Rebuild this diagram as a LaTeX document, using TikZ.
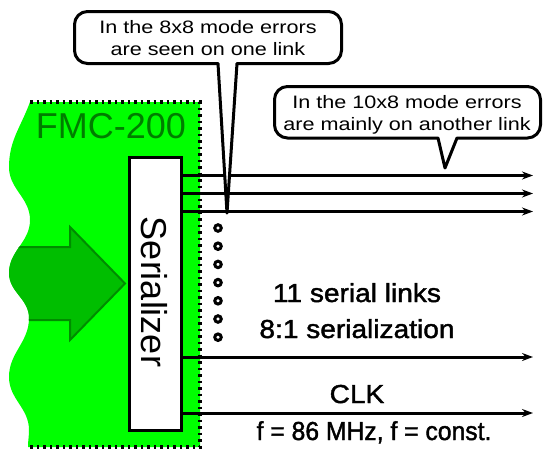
\documentclass[tikz,border=0pt]{standalone}
\usepackage{fontspec}
\setmainfont{Liberation Sans}
\newfontfamily\calloutfont[FakeStretch=1.2]{Liberation Sans}
\newfontfamily\labelfont[FakeStretch=1.08,FakeBold=1.6]{Liberation Sans}
\newfontfamily\freqfont[FakeStretch=0.95,FakeBold=1.6]{Liberation Sans}
\usetikzlibrary{arrows.meta}
\definecolor{brightgreen}{RGB}{0,255,0}
\definecolor{arrowgreen}{RGB}{0,190,0}
\definecolor{arrowedge}{RGB}{0,140,0}
\definecolor{textgreen}{RGB}{0,125,0}
\begin{document}
\begin{tikzpicture}[x=1pt,y=1pt,
  link/.style={line width=3pt,-{Stealth[length=11pt,width=8pt]}},
  callout/.style={draw=black,fill=white,line width=3pt,line join=round},
  calltext/.style={anchor=base,inner sep=0pt,font=\calloutfont\fontsize{18}{22}\selectfont},
  bigtext/.style={anchor=base,inner sep=0pt,font=\labelfont\fontsize{26}{30}\selectfont},
  dotmark/.style={circle,draw=black,line width=3pt,minimum size=6.5pt,inner sep=0pt},
  border/.style={line width=4pt,dash pattern=on 2.5pt off 4pt}]
\useasboundingbox (0,0) rectangle (544,-450);
\def\greenregion{(30,-102) -- (200,-102) -- (200,-447) -- (28,-447)
  to[out=90,in=-90] (29,-430) to[out=90,in=-90] (9,-377)
  to[out=90,in=-90] (29,-318) to[out=90,in=-90] (9,-273)
  to[out=90,in=-90] (30,-220) to[out=90,in=-90] (9,-167)
  to[out=90,in=-110] (30,-102) -- cycle}
% green board
\path[fill=brightgreen] \greenregion;
\begin{scope}
  \clip \greenregion;
  \draw[fill=arrowgreen,draw=arrowedge,line width=2pt,line join=miter]
    (-5,-247) -- (70,-247) -- (70,-227) -- (125,-283.5) -- (70,-340) -- (70,-320) -- (-5,-320) -- cycle;
\end{scope}
\node[anchor=base,inner sep=0pt,text=textgreen,font=\fontsize{36}{36}\selectfont] (fmc) at (111,-138) {FMC-200};
% serializer
\node[draw=black,fill=white,line width=3.5pt,minimum width=52pt,minimum height=273pt,inner sep=0pt] (ser) at (155.5,-294) {};
\node[rotate=-90,inner sep=0pt,font=\fontsize{36}{36}\selectfont] (sertext) at (154,-292) {Serializer};
% link ends
\coordinate (e1) at (533,-175.5);
\coordinate (e2) at (533,-193.5);
\coordinate (e3) at (533,-211.5);
\coordinate (e4) at (533,-357);
\coordinate (e5) at (533,-413);
\foreach \e in {e1,e2,e3,e4,e5}{
  \draw[link] (ser.east |- \e) -- (\e);
}
% dotted board border
\draw[border] (30,-102) -- (200,-102) -- (200,-447) -- (28,-447);
% dots
\foreach \i in {0,...,6}{
  \node[dotmark] (d\i) at (218,{-228-18.2*\i}) {};
}
% labels
\node[bigtext] (l1) at (357,-302) {11 serial links};
\node[bigtext] (l2) at (357,-338) {8:1 serialization};
\node[bigtext] (clk) at (357,-403) {CLK};
\node[anchor=base,inner sep=0pt,font=\freqfont\fontsize{26}{30}\selectfont] (freq) at (374,-440) {f = 86 MHz, f = const.};
% callout 1
\draw[callout] (74.5,-37) [rounded corners=13pt] -- (74.5,-11.5) -- (341.5,-11.5) -- (341.5,-63.5) [sharp corners] -- (237,-63.5) -- (227,-213) -- (218,-63.5) [rounded corners=13pt] -- (74.5,-63.5) -- cycle;
\node[calltext] (c1a) at (208,-33) {In the 8x8 mode errors};
\node[calltext] (c1b) at (208,-55) {are seen on one link};
% callout 2
\draw[callout] (274.5,-112) [rounded corners=13pt] -- (274.5,-86.5) -- (540.5,-86.5) -- (540.5,-138) [sharp corners] -- (457,-138) -- (445,-168) -- (438,-138) [rounded corners=13pt] -- (274.5,-138) -- cycle;
\node[calltext] (c2a) at (407,-108) {In the 10x8 mode errors};
\node[calltext] (c2b) at (407,-130) {are mainly on another link};
\end{tikzpicture}
\end{document}
